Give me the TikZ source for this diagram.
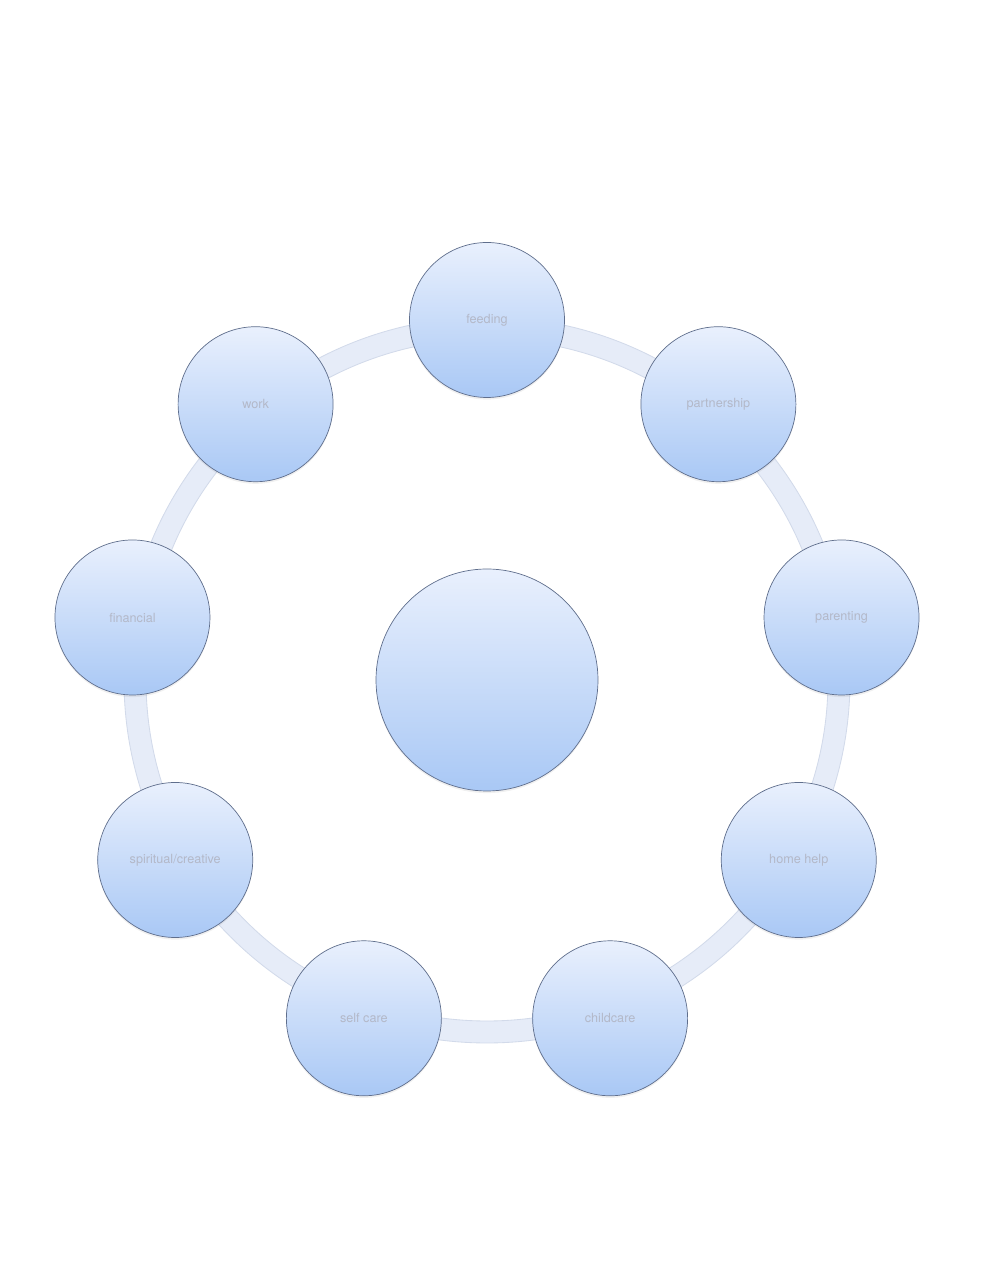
\documentclass[tikz,border=0pt]{standalone}
\usepackage{fontspec}
\setmainfont{TeX Gyre Heros}
\usepackage{tikz}
\usetikzlibrary{shadows}
\definecolor{balltop}{HTML}{E9F0FD}
\definecolor{ballbottom}{HTML}{A9C8F5}
\definecolor{balledge}{HTML}{5F6E8C}
\definecolor{ringfill}{HTML}{E6ECF8}
\definecolor{ringedge}{HTML}{D2DAEA}
\definecolor{labelgray}{HTML}{B3B8C8}

\begin{document}
\begin{tikzpicture}[
    ball/.style={circle, draw=balledge, line width=0.5pt, top color=balltop, bottom color=ballbottom,
        drop shadow={opacity=0.12, shadow xshift=0pt, shadow yshift=-1.5pt}},
    topic/.style={ball, minimum size=3.875cm, inner sep=0pt},
    label/.style={font=\fontsize{9}{11}\selectfont, text=labelgray}
]
    \useasboundingbox (0,0) rectangle (24.75,32);
    \coordinate (mid) at (12.175,15.0);

    % the ring behind the circles
    \draw[ringfill, line width=0.55cm] (mid) circle (8.8);
    \draw[ringedge, line width=0.6pt] (mid) circle (9.075);
    \draw[ringedge, line width=0.6pt] (mid) circle (8.525);

    % centre circle
    \node[ball, minimum size=5.55cm] (hub) at (mid) {};

    % circles round the ring, 40 degrees apart
    \node[topic, label] (feeding) at ([shift={(90:9)}]mid) {feeding};
    \node[topic, label] (partnership) at ([shift={(50:9)}]mid) {partnership};
    \node[topic, label] (parenting) at ([shift={(10:9)}]mid) {parenting};
    \node[topic, label] (homehelp) at ([shift={(-30:9)}]mid) {home help};
    \node[topic, label] (childcare) at ([shift={(-70:9)}]mid) {childcare};
    \node[topic, label] (selfcare) at ([shift={(-110:9)}]mid) {self care};
    \node[topic, label] (spiritual) at ([shift={(-150:9)}]mid) {spiritual/creative};
    \node[topic, label] (financial) at ([shift={(170:9)}]mid) {financial};
    \node[topic, label] (work) at ([shift={(130:9)}]mid) {work};
\end{tikzpicture}
\end{document}
